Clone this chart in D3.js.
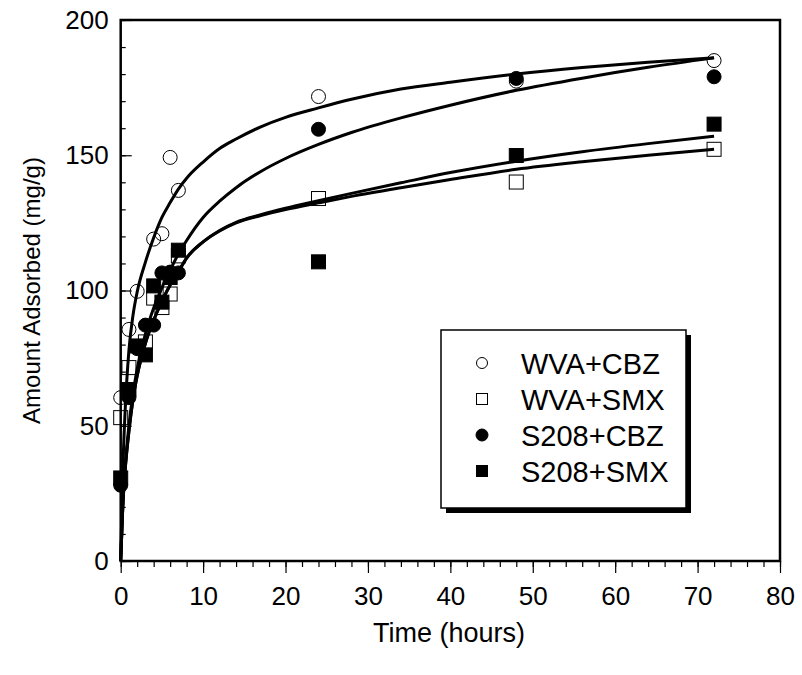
<!DOCTYPE html>
<html>
<head>
<meta charset="utf-8">
<script src="https://cdn.jsdelivr.net/npm/d3@7"></script>
<style>
  html, body { margin: 0; padding: 0; background: #fff; }
  svg { display: block; }
  text { font-family: "Liberation Sans", Arial, sans-serif; fill: #000; }
</style>
</head>
<body>
<svg id="chart" width="802" height="675"></svg>
<script>
// ---------- data ----------
const seriesNames = ["WVA+CBZ", "WVA+SMX", "S208+CBZ", "S208+SMX"];

const wvaCbzT = [0, 1, 2, 4, 5, 6, 7, 24, 48, 72];
const wvaCbzQ = [60.4, 85.6, 99.7, 119, 121, 149.2, 137, 171.7, 177.4, 185];

const wvaSmxT = [0, 1, 3, 4, 5, 6, 7, 24, 48, 72];
const wvaSmxQ = [53, 71.5, 81, 97.2, 93.7, 98.7, 112.8, 134, 140.1, 152.2];

const s208CbzT = [0, 1, 2, 3, 4, 5, 6, 7, 24, 48, 72];
const s208CbzQ = [28, 60.4, 78.5, 87.2, 87.2, 106.5, 106.8, 106.5, 159.6, 178.4, 179];

const s208SmxT = [0, 1, 2, 3, 4, 5, 6, 7, 24, 48, 72];
const s208SmxQ = [30.7, 63.4, 79.5, 76.2, 101.7, 95.7, 104.8, 114.9, 110.6, 149.9, 161.5];

// fitted curves, values
const fitT = [0, 0.25, 0.5, 1, 1.5, 2, 3, 4, 5, 6, 7, 8, 10, 12, 14, 17, 20, 24, 28, 34, 40, 48, 56, 64, 72];
const fitWvaCbz  = [0, 33, 53, 78, 91, 99.5, 110.5, 119.5, 127, 132.5, 137.5, 141.5, 147.5, 152.5, 156, 160.5, 164, 167.5, 170.7, 174.5, 177, 180, 182.4, 184.4, 186];
const fitS208Cbz = [0, 20, 33, 50, 62, 71, 84, 93.5, 101, 107.5, 113.5, 118.5, 127, 133, 138, 144, 148.8, 154, 158.4, 163.8, 168.5, 174, 178.5, 182.5, 186];
const fitS208Smx = [0, 20, 32, 48, 60, 68.5, 80.5, 89, 96, 102, 107, 112, 118, 122.2, 125.2, 128, 130.4, 133.2, 135.9, 139.8, 143.6, 147.8, 151.3, 154.3, 157];
const fitWvaSmx  = [0, 20, 32, 48, 60, 68.5, 80.5, 89, 96, 102, 107, 112, 118, 122, 125, 127.7, 129.9, 132.4, 134.8, 138, 141, 144.8, 147.6, 150, 152.2];

const xTicks = [0, 10, 20, 30, 40, 50, 60, 70, 80];
const yTicks = [0, 50, 100, 150, 200];

// ---------- drawing ----------
const svg = d3.select("#chart");
const x = d3.scaleLinear().domain([0, 80]).range([120.7, 780]);
const y = d3.scaleLinear().domain([0, 200]).range([561, 20]);

// frame
svg.append("rect")
  .attr("x", x(0)).attr("y", y(200))
  .attr("width", x(80) - x(0)).attr("height", y(0) - y(200))
  .attr("fill", "none").attr("stroke", "#000").attr("stroke-width", 2.5);

// x axis: minor ticks
const xMinor = d3.range(0, 81, 2);
const gxMinor = svg.append("g").attr("transform", `translate(0,${y(0)})`)
  .call(d3.axisBottom(x).tickValues(xMinor).tickSize(6).tickFormat(""));
gxMinor.select(".domain").remove();
// x axis: major ticks
const gx = svg.append("g").attr("transform", `translate(0,${y(0)})`)
  .call(d3.axisBottom(x).tickValues(xTicks).tickSize(12).tickPadding(14).tickFormat(d3.format("d")));
gx.select(".domain").remove();
gx.selectAll("text").style("font-size", "26px").attr("font-family", null);

// y axis: minor ticks (inward)
const yMinor = d3.range(0, 201, 10);
const gyMinor = svg.append("g").attr("transform", `translate(${x(0)},0)`)
  .call(d3.axisLeft(y).tickValues(yMinor).tickSize(-5).tickFormat(""));
gyMinor.select(".domain").remove();
const gy = svg.append("g").attr("transform", `translate(${x(0)},0)`)
  .call(d3.axisLeft(y).tickValues(yTicks).tickSize(-11).tickPadding(12).tickFormat(d3.format("d")));
gy.select(".domain").remove();
gy.selectAll("text").style("font-size", "26px").attr("font-family", null);

svg.selectAll(".tick line").attr("stroke", "#000").attr("stroke-width", 1.2);

// axis titles
svg.append("text")
  .attr("x", 449).attr("y", 642)
  .attr("text-anchor", "middle")
  .style("font-size", "27px")
  .text("Time (hours)");
svg.append("text")
  .attr("transform", `translate(40,${(y(0) + y(200)) / 2}) rotate(-90)`)
  .attr("text-anchor", "middle")
  .style("font-size", "24px")
  .text("Amount Adsorbed (mg/g)");

// fitted curves
const line = d3.line()
  .x((d, i) => x(fitT[i]))
  .y(d => y(d))
  .curve(d3.curveMonotoneX);
[fitWvaCbz, fitS208Cbz, fitS208Smx, fitWvaSmx].forEach(arr => {
  svg.append("path").datum(arr)
    .attr("d", line)
    .attr("fill", "none").attr("stroke", "#000").attr("stroke-width", 3);
});

// markers
const R = 7, S = 14;
function circles(ts, qs, filled) {
  svg.append("g").selectAll("circle").data(qs).join("circle")
    .attr("cx", (d, i) => x(ts[i])).attr("cy", d => y(d)).attr("r", R)
    .attr("fill", filled ? "#000" : "none").attr("stroke", "#000").attr("stroke-width", 1);
}
function squares(ts, qs, filled) {
  svg.append("g").selectAll("rect").data(qs).join("rect")
    .attr("x", (d, i) => x(ts[i]) - S / 2).attr("y", d => y(d) - S / 2)
    .attr("width", S).attr("height", S)
    .attr("fill", filled ? "#000" : "none").attr("stroke", "#000").attr("stroke-width", 1);
}
circles(wvaCbzT, wvaCbzQ, false);
squares(wvaSmxT, wvaSmxQ, false);
circles(s208CbzT, s208CbzQ, true);
squares(s208SmxT, s208SmxQ, true);

// legend
const lg = svg.append("g");
const lx = 441, ly = 330, lw = 245, lh = 178;
lg.append("rect").attr("x", lx + 5).attr("y", ly + 5).attr("width", lw).attr("height", lh).attr("fill", "#000");
lg.append("rect").attr("x", lx).attr("y", ly).attr("width", lw).attr("height", lh)
  .attr("fill", "#fff").attr("stroke", "#000").attr("stroke-width", 1.5);
const rowY = [363, 399, 435, 471];
const kinds = [["circle", false], ["square", false], ["circle", true], ["square", true]];
seriesNames.forEach((name, i) => {
  const [k, f] = kinds[i];
  if (k === "circle") {
    lg.append("circle").attr("cx", 482).attr("cy", rowY[i]).attr("r", f ? 6 : 5.5)
      .attr("fill", f ? "#000" : "none").attr("stroke", "#000").attr("stroke-width", 1);
  } else {
    lg.append("rect").attr("x", 482 - 5.5).attr("y", rowY[i] - 5.5).attr("width", 11).attr("height", 11)
      .attr("fill", f ? "#000" : "none").attr("stroke", "#000").attr("stroke-width", 1);
  }
  lg.append("text").attr("x", 521).attr("y", rowY[i] + 10.5)
    .style("font-size", "29px").text(name);
});
</script>
</body>
</html>
